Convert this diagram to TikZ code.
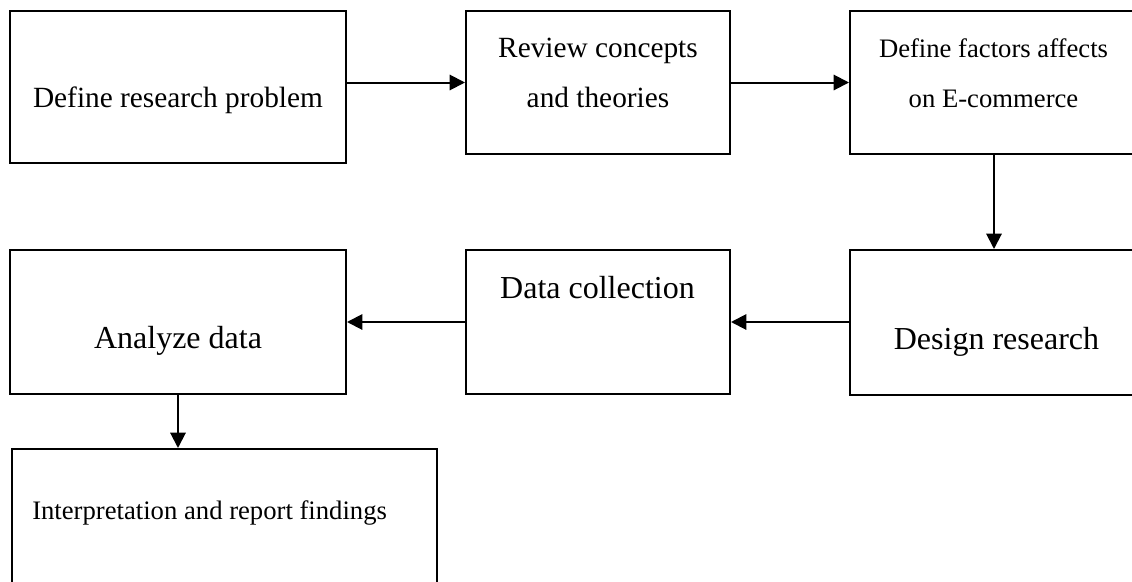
\documentclass[tikz,border=0pt]{standalone}
\usepackage{fontspec}
\setmainfont{Liberation Serif}
\usetikzlibrary{arrows.meta}
\tikzset{
  box/.style={draw, line width=1.5pt, inner sep=0pt},
  flow/.style={line width=1.5pt, -{Triangle[length=11.5pt,width=11.5pt]}},
  bigtxt/.style={inner sep=0pt, font=\fontsize{24}{28}\selectfont},
  midtxt/.style={inner sep=0pt, align=center, font=\fontsize{22}{37.5}\selectfont},
  smalltxt/.style={inner sep=0pt, align=center, font=\fontsize{20}{37.5}\selectfont},
}
\begin{document}
\begin{tikzpicture}[x=0.75pt,y=0.75pt,yscale=-1,xscale=1]
\useasboundingbox (0,0) rectangle (1132,582);

%Shape: Rectangle [id:problem]
\node [box, minimum width=252pt, minimum height=114pt] (problem) at (178,87) {};
%Shape: Rectangle [id:review]
\node [box, minimum width=198pt, minimum height=107.25pt] (review) at (598,82.5) {};
%Shape: Rectangle [id:factors]
\node [box, minimum width=216pt, minimum height=107.25pt] (factors) at (994,82.5) {};
%Shape: Rectangle [id:design]
\node [box, minimum width=216pt, minimum height=108.75pt] (design) at (994,322.5) {};
%Shape: Rectangle [id:collect]
\node [box, minimum width=198pt, minimum height=108pt] (collect) at (598,322) {};
%Shape: Rectangle [id:analyze]
\node [box, minimum width=252pt, minimum height=108pt] (analyze) at (178,322) {};
%Shape: Rectangle [id:report]
\node [box, minimum width=318.75pt, minimum height=109.5pt] (report) at (224.5,522) {};

%Straight Lines [id:arrows]
\draw [flow] (problem.east |- review.west) -- (review.west) ;
\draw [flow] (review.east) -- (factors.west) ;
\draw [flow] (factors.south) -- (design.north) ;
\draw [flow] (design.west |- collect.east) -- (collect.east) ;
\draw [flow] (collect.west) -- (analyze.east) ;
\draw [flow] (analyze.south) -- (analyze.south |- report.north) ;

% Text Node
\draw (178,107) node [midtxt, anchor=base] (tproblem) {Define research problem};
% Text Node (base = last line)
\draw (598,107) node [midtxt, anchor=base] (treview) {Review concepts\\and theories};
% Text Node (base = last line)
\draw (993.5,107) node [smalltxt, anchor=base] (tfactors) {Define factors affects\\on E-commerce};
% Text Node
\draw (996.5,349) node [bigtxt, anchor=base] (tdesign) {Design research};
% Text Node
\draw (597.5,298) node [bigtxt, anchor=base] (tcollect) {Data collection};
% Text Node
\draw (178,348) node [bigtxt, anchor=base] (tanalyze) {Analyze data};
% Text Node
\draw (32,519) node [smalltxt, anchor=base west] (treport) {Interpretation and report findings};

\end{tikzpicture}
\end{document}
